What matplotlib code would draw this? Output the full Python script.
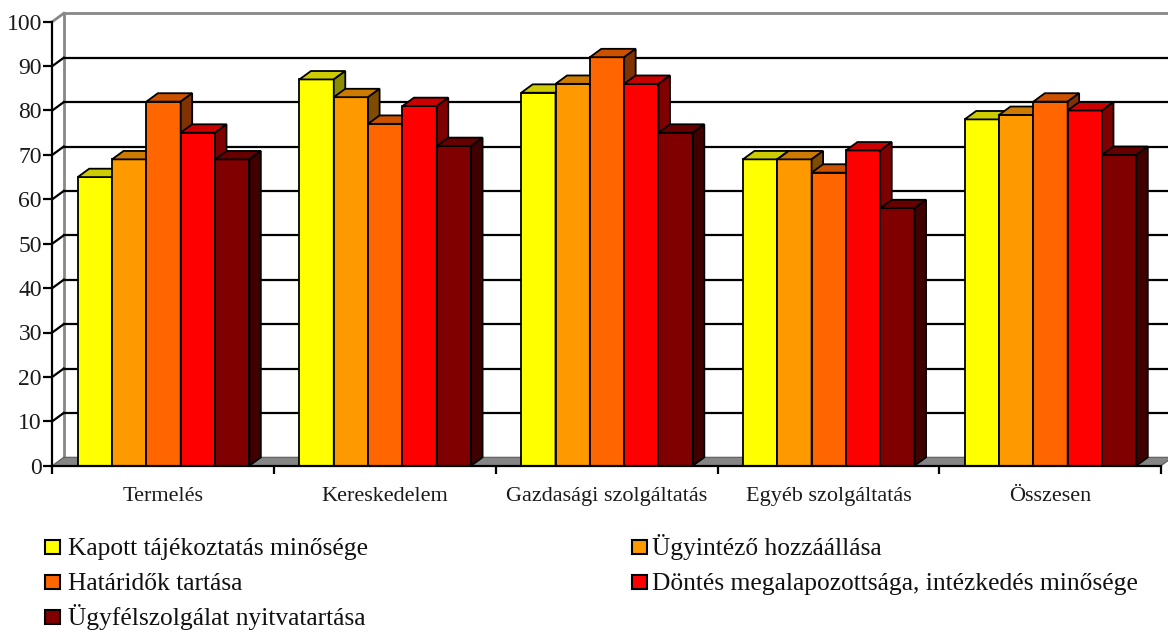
import matplotlib
matplotlib.use("Agg")
import matplotlib.pyplot as plt
from matplotlib.patches import Polygon, Rectangle
from matplotlib.lines import Line2D
import numpy as np

# ---- data -------------------------------------------------------------
categories = ["Termelés", "Kereskedelem", "Gazdasági szolgáltatás",
              "Egyéb szolgáltatás", "Összesen"]
series_names = ["Kapott tájékoztatás minősége",
                "Ügyintéző hozzáállása",
                "Határidők tartása",
                "Döntés megalapozottsága, intézkedés minősége",
                "Ügyfélszolgálat nyitvatartása"]
kapott = [65, 87, 84, 69, 78]
ugyintezo = [69, 83, 86, 69, 79]
hataridok = [82, 77, 92, 66, 82]
dontes = [75, 81, 86, 71, 80]
nyitva = [69, 72, 75, 58, 70]
y_ticks = [0, 10, 20, 30, 40, 50, 60, 70, 80, 90, 100]

series_values = [kapott, ugyintezo, hataridok, dontes, nyitva]

# ---- style ------------------------------------------------------------
front_colors = ["#FFFF00", "#FF9900", "#FF6600", "#FF0000", "#800000"]
top_colors = ["#CCCC00", "#CC7A00", "#CC5200", "#CC0000", "#660000"]
side_colors = ["#8C8C00", "#804C00", "#803300", "#800000", "#400000"]
FONT = "Liberation Serif"

W, H = 1168, 635
fig = plt.figure(figsize=(W / 100, H / 100), dpi=100)

# front plane of the 3-D box in pixels
px_left, px_right = 52.3, 1161.0
px_y0, px_y100 = 465.7, 21.7
ax = fig.add_axes([px_left / W, (H - px_y0) / H,
                   (px_right - px_left) / W, (px_y0 - px_y100) / H])
ax.set_xlim(0, len(categories))
ax.set_ylim(0, 100)
ax.patch.set_visible(False)

# depth offset of the 3-D box, converted to data units
depth_px_x, depth_px_y = 11.5, 8.4
DX = depth_px_x * len(categories) / (px_right - px_left)
DY = depth_px_y * 100 / (px_y0 - px_y100)
n = len(categories)

# back wall and floor
floor = Polygon([(0, 0), (n, 0), (n + DX, DY), (DX, DY)], closed=True,
                facecolor="#858585", edgecolor="#5a5a5a", lw=0.8,
                zorder=2, clip_on=False)
ax.add_patch(floor)
ax.add_line(Line2D([DX, DX], [DY, 100 + DY], color="#888888", lw=2.0,
                   zorder=1, clip_on=False))
ax.add_line(Line2D([DX, n + DX + 1], [100 + DY, 100 + DY], color="#888888",
                   lw=2.0, zorder=1, clip_on=False))
ax.add_line(Line2D([0, DX], [100, 100 + DY], color="#888888", lw=2.0,
                   zorder=1, clip_on=False))
for v in y_ticks[1:-1]:
    ax.add_line(Line2D([0, DX], [v, v + DY], color="black", lw=1.6,
                       zorder=1, clip_on=False))
    ax.add_line(Line2D([DX, n + DX + 1], [v + DY, v + DY], color="black",
                       lw=1.6, zorder=1, clip_on=False))

# bars: front faces through ax.bar, tops and sides as polygons
group_start, group_width = 0.1146, 0.774
bar_w = group_width / len(series_values)
x_cat = np.arange(n)
for j, vals in enumerate(series_values):
    left = x_cat + group_start + j * bar_w
    z = 10 + j
    ax.bar(left, vals, width=bar_w, align="edge", color=front_colors[j],
           edgecolor="black", linewidth=1.3, zorder=z, clip_on=False,
           label=series_names[j])
    for xl, v in zip(left, vals):
        xr = xl + bar_w
        top = Polygon([(xl, v), (xr, v), (xr + DX, v + DY), (xl + DX, v + DY)],
                      closed=True, facecolor=top_colors[j], edgecolor="black",
                      lw=1.3, zorder=z, clip_on=False, joinstyle="miter")
        side = Polygon([(xr, 0), (xr + DX, DY), (xr + DX, v + DY), (xr, v)],
                       closed=True, facecolor=side_colors[j], edgecolor="black",
                       lw=1.3, zorder=z, clip_on=False, joinstyle="miter")
        ax.add_patch(top)
        ax.add_patch(side)

# axes lines and ticks
for s in ["top", "right"]:
    ax.spines[s].set_visible(False)
for s in ["left", "bottom"]:
    ax.spines[s].set_linewidth(1.6)
    ax.spines[s].set_zorder(30)
ax.set_yticks(y_ticks)
ax.set_yticklabels([str(t) for t in y_ticks], fontfamily=FONT, fontsize=17,
                   color="#1a1a1a")
ax.tick_params(axis="y", length=6.5, width=1.6, pad=1, direction="out")
ax.set_xticks(np.arange(n + 1))
ax.set_xticklabels([])
ax.tick_params(axis="x", which="major", length=6, width=1.6, direction="out")
ax.set_xticks(x_cat + 0.5, minor=True)
ax.set_xticklabels(categories, minor=True, fontfamily=FONT, fontsize=16,
                   color="#1a1a1a")
ax.tick_params(axis="x", which="minor", length=0, pad=15)

# legend: two columns below the plot
legend_cols = [(45, 68), (632, 652)]
legend_rows = [547, 582, 617]
legend_slots = [(0, 0), (1, 0), (0, 1), (1, 1), (0, 2)]
for j, (c, r) in enumerate(legend_slots):
    sx, tx = legend_cols[c]
    cy = legend_rows[r]
    sq = 14.5
    fig.add_artist(Rectangle((sx / W, (H - cy - sq / 2) / H), sq / W, sq / H,
                             transform=fig.transFigure,
                             facecolor=front_colors[j], edgecolor="black",
                             lw=1.5))
    fig.text(tx / W, (H - cy - 8) / H, series_names[j], fontfamily=FONT,
             fontsize=18.4, color="#111111", ha="left", va="baseline")

fig.savefig("out.png", dpi=100)
